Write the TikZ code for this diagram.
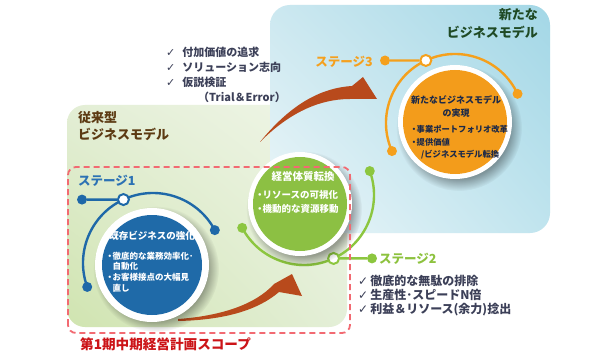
\documentclass[tikz,border=0pt]{standalone}
\usepackage{fontspec}
\setmainfont{Noto Sans CJK JP}
\newfontfamily\dvfont{DejaVu Sans}
\usetikzlibrary{fadings,shadings,calc}
\definecolor{blueC}{HTML}{1F6AA8}
\definecolor{blueArc}{HTML}{1E68A8}
\definecolor{blueTxt}{HTML}{2C72B4}
\definecolor{greenC}{HTML}{8CC043}
\definecolor{greenArc}{HTML}{8CC63F}
\definecolor{greenTxt}{HTML}{8DC23E}
\definecolor{orangeC}{HTML}{F39C1B}
\definecolor{orangeArc}{HTML}{F5A01C}
\definecolor{orangeTxt}{HTML}{F5A01E}
\definecolor{arrowC}{HTML}{B84A1C}
\definecolor{dashC}{HTML}{F26A72}
\definecolor{labelC}{HTML}{CC1418}
\definecolor{listC}{HTML}{3C4058}
\definecolor{brownC}{HTML}{5C3A12}
\definecolor{dgreenC}{HTML}{1F4A25}
\definecolor{navyC}{HTML}{1D2A48}
\definecolor{gLL}{HTML}{D0E4B0}
\definecolor{gUR}{HTML}{F0F6E8}
\definecolor{gUL}{HTML}{E3EED5}
\definecolor{gLR}{HTML}{E4EFD8}
\definecolor{bUR}{HTML}{A3D7E6}
\definecolor{bUL}{HTML}{CCE8F0}
\definecolor{bLL}{HTML}{EEF7F9}
\definecolor{bLR}{HTML}{C0E4EE}
\newcommand\myfs[2]{\fontsize{#1}{#2}\selectfont}
\newcommand\mybul{\makebox[5.5pt][c]{・}}
\newcommand\mychk{{\dvfont\mdseries ✓}}
\begin{document}
\begin{tikzpicture}[x=1pt,y=1pt,
  txt/.style={inner sep=0pt, font=\bfseries},
  arcline/.style={line width=2.4pt, draw=#1},
  dotnode/.style={circle, fill=#1, minimum size=10pt, inner sep=0pt},
  ringnode/.style={circle, fill=white, draw=#1, line width=2pt, minimum size=11pt, inner sep=0pt},
  softshadow/.style={fill=black, opacity=0.35, path fading=circle with fuzzy edge 20 percent},
  bigarrow/.style={fill=arrowC}
]
\useasboundingbox (0,0) rectangle (612,351);
\fill[white] (0,0) rectangle (612,351);

% backgrounds
\shade[rounded corners=18pt, lower left=gLL, upper right=gUR, upper left=gUL, lower right=gLR]
  (67,24) rectangle (347,246);
\shade[rounded corners=20pt, lower left=bLL, upper right=bUR, upper left=bUL, lower right=bLR]
  (270,118) rectangle (550,346);

% curved arrows
\fill[bigarrow] (260,209) .. controls (290,246) and (320,263) .. (352,265)
  -- (363,274) -- (377,252) -- (350,252)
  .. controls (318,252) and (288,237) .. (260,209) -- cycle;
\fill[bigarrow] (178,32) .. controls (220,35) and (255,46) .. (274,67)
  -- (292,77) -- (302,55) -- (279,59)
  .. controls (258,41) and (225,31) .. (178,30) -- cycle;

% ---------- stage 1 ----------
\node[dotnode=blueArc] (s1a) at ($(153,88)+(200:70)$) {};
\node[dotnode=blueArc] (s1b) at ($(153,88)+(28:70)$) {};
\node[dotnode=blueArc] (s1l) at (82,151.4) {};
\draw[arcline=blueArc] (s1a.center) arc[start angle=200, end angle=28, radius=70];
\node[ringnode=blueArc] (s1r) at ($(153,88)+(115:70)$) {};
\draw[arcline=blueArc] (s1l) -- (s1r);
\fill[softshadow] (156,82) circle (63);
\node[circle, fill=white, minimum size=114pt, inner sep=0pt] (c1w) at (152,86) {};
\node[circle, fill=blueC, minimum size=100pt, inner sep=0pt] (c1) at (152,86) {};

% ---------- stage 2 ----------
\node[dotnode=greenArc] (s2a) at ($(304,156)+(208:70)$) {};
\node[dotnode=greenArc] (s2b) at ($(304,156)+(20:70)$) {};
\node[dotnode=greenArc] (s2rr) at (372,92.6) {};
\draw[arcline=greenArc] (s2a.center) arc[start angle=208, end angle=380, radius=70];
\node[ringnode=greenArc] (s2r) at ($(304,156)+(295:70)$) {};
\draw[arcline=greenArc] (s2r) -- (s2rr);
\fill[softshadow] (304,142) circle (58);
\node[circle, fill=white, minimum size=104pt, inner sep=0pt] (c2w) at (300,147) {};
\node[circle, fill=greenC, minimum size=94pt, inner sep=0pt] (c2) at (300,147) {};

% ---------- stage 3 ----------
\node[dotnode=orangeArc] (s3a) at ($(455,228)+(204:69)$) {};
\node[dotnode=orangeArc] (s3b) at ($(455,228)+(25:69)$) {};
\node[dotnode=orangeArc] (s3l) at (385,290.5) {};
\draw[arcline=orangeArc] (s3a.center) arc[start angle=204, end angle=25, radius=69];
\node[ringnode=orangeArc] (s3r) at ($(455,228)+(115:69)$) {};
\draw[arcline=orangeArc] (s3l) -- (s3r);
\fill[softshadow] (459,223) circle (63);
\node[circle, fill=white, minimum size=114pt, inner sep=0pt] (c3w) at (455,229) {};
\node[circle, fill=orangeC, minimum size=104pt, inner sep=0pt] (c3) at (455,229) {};

% dashed scope
\draw[dashC, line width=1.8pt, dash pattern=on 6pt off 4pt, rounded corners=8pt]
  (68,18) rectangle (350,184);

% ---------- texts ----------
\node[txt, text=brownC, align=left, anchor=west, font=\bfseries\myfs{13}{17}] (oldbm) at (78,224.5)
  {従来型\\ビジネスモデル};
\node[txt, text=dgreenC, align=right, anchor=east, font=\bfseries\myfs{13}{18}] (newbm) at (538,327)
  {新たな\\ビジネスモデル};
\node[txt, text=labelC, anchor=west, font=\bfseries\myfs{13.6}{16}] (scope) at (80,7)
  {第1期中期経営計画スコープ};

\node[txt, text=blueTxt, anchor=west, font=\bfseries\myfs{12.5}{15}] (st1) at (78,170) {ステージ1};
\node[txt, text=greenTxt, anchor=west, font=\bfseries\myfs{12.5}{15}] (st2) at (379,92.6) {ステージ2};
\node[txt, text=orangeTxt, anchor=east, font=\bfseries\myfs{12.5}{15}] (st3) at (373,289) {ステージ3};

\node[txt, text=listC, align=left, anchor=west, font=\bfseries\myfs{11}{15}] (list1) at (166,276.5)
  {\mychk\hspace{7pt}付加価値の追求\\
   \mychk\hspace{7pt}ソリューション志向\\
   \mychk\hspace{7pt}仮説検証\\
   \hspace{32pt}（Trial＆Error）};
\node[txt, text=listC, align=left, anchor=west, font=\bfseries\myfs{12}{14}] (list2) at (358,55)
  {\mychk\hspace{2pt}徹底的な無駄の排除\\
   \mychk\hspace{2pt}生産性･スピードN倍\\
   \mychk\hspace{2pt}利益＆リソース(余力)捻出};

\node[txt, text=white, font=\bfseries\myfs{9.5}{12}] (t1) at (152,115) {既存ビジネスの強化};
\node[txt, text=white, align=left, anchor=west, font=\bfseries\myfs{8.5}{10.7}] (b1) at (107,79)
  {\mybul 徹底的な業務効率化･\\
   \hspace{5.5pt}自動化\\
   \mybul お客様接点の大幅見\\
   \hspace{5.5pt}直し};

\node[txt, text=white, font=\bfseries\myfs{10.5}{13}] (t2) at (303,174) {経営体質転換};
\node[txt, text=white, align=left, anchor=west, font=\bfseries\myfs{9.5}{14}] (b2) at (257,149)
  {\mybul リソースの可視化\\
   \mybul 機動的な資源移動};

\node[txt, text=navyC, align=center, font=\bfseries\myfs{9}{13}] (t3) at (456,244.5)
  {新たなビジネスモデル\\の実現};
\node[txt, text=navyC, align=left, anchor=west, font=\bfseries\myfs{8.3}{12.5}] (b3) at (411,208.5)
  {\mybul 事業ポートフォリオ改革\\
   \mybul 提供価値\\
   \hspace{10pt}/ビジネスモデル転換};
\end{tikzpicture}
\end{document}
